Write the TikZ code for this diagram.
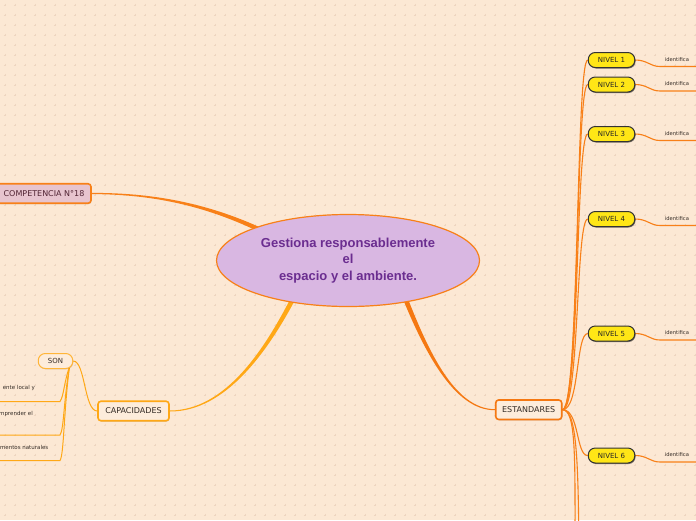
\documentclass[tikz,border=0pt]{standalone}
\usepackage{fontspec}
\setmainfont{DejaVu Sans}
\newfontfamily\centerfont{Liberation Sans}
\usetikzlibrary{shapes.geometric,shadows,calc}
\definecolor{bgc}{RGB}{252,232,212}
\definecolor{plusc}{RGB}{238,213,192}
\definecolor{ctrfill}{RGB}{217,183,226}
\definecolor{ctrtext}{RGB}{107,45,144}
\definecolor{orA}{RGB}{248,128,24}
\definecolor{orB}{RGB}{255,168,22}
\definecolor{orC}{RGB}{245,120,18}
\definecolor{compfill}{RGB}{231,196,206}
\definecolor{comptext}{RGB}{80,35,50}
\definecolor{boxfill}{RGB}{253,236,219}
\definecolor{nivfill}{RGB}{255,230,22}
\definecolor{textdk}{RGB}{51,42,36}
\pgfdeclarelayer{back}
\pgfdeclarelayer{lines}
\pgfsetlayers{back,lines,main}
\begin{document}
\begin{tikzpicture}[x=1pt,y=-1pt,
  lbl/.style={font=\fontsize{8}{9.6}\selectfont, text=textdk, rounded corners=3pt,
    line width=1.6pt, inner sep=0pt, minimum height=19.5pt,
    drop shadow={shadow xshift=0.6pt, shadow yshift=-0.8pt, fill=black, opacity=0.18}},
  compbox/.style={lbl, draw=orA, fill=compfill, text=comptext, minimum width=94pt},
  capbox/.style={lbl, draw=orB, fill=boxfill, minimum width=71pt},
  estbox/.style={lbl, draw=orC, fill=boxfill, minimum width=66pt},
  sonbox/.style={draw=orB!85, fill=boxfill, line width=1pt, rounded corners=7pt,
    minimum width=34.5pt, minimum height=15pt, inner sep=0pt,
    font=\fontsize{7}{8}\selectfont, text=textdk,
    drop shadow={shadow xshift=0.6pt, shadow yshift=-0.8pt, fill=black, opacity=0.15}},
  nivbox/.style={draw=black!80, fill=nivfill, line width=1pt, rounded corners=7pt,
    minimum width=46.5pt, minimum height=15pt, inner sep=0pt,
    font=\fontsize{7}{8}\selectfont, text=black!85,
    drop shadow={shadow xshift=0.8pt, shadow yshift=-1pt, fill=black, opacity=0.5}},
  idtxt/.style={font=\fontsize{5.2}{6}\selectfont, text=textdk, inner sep=0pt},
  leaftxt/.style={font=\fontsize{5.5}{6.5}\selectfont, text=textdk, inner sep=0pt, anchor=east},
  niv/.style={draw=orA, line width=1.1pt},
  sonln/.style={draw=orB, line width=1pt},
]
\useasboundingbox (0,0) rectangle (696,520);

% ---------- nodes ----------
\node[ellipse, draw=orA, line width=1.2pt, fill=ctrfill, minimum width=263pt,
  minimum height=92pt, inner sep=0pt, align=center,
  font=\centerfont\bfseries\fontsize{13}{16.5}\selectfont, text=ctrtext]
  (ctr) at (348,260.5) {Gestiona responsablemente\\el\\espacio y el ambiente.};

\node[compbox] (comp) at (44,193.5) {COMPETENCIA N°18};
\node[capbox] (cap) at (133.5,411) {CAPACIDADES};
\node[estbox] (est) at (528.7,409.7) {ESTANDARES};
\node[sonbox] (son) at (55.5,361) {SON};

\node[leaftxt] (lf1) at (35,388) {ente local y};
\node[leaftxt] (lf2) at (33,413.5) {mprender el};
\node[leaftxt] (lf3) at (48.5,447.5) {mentos naturales};

\foreach \i/\y in {1/60,2/84.5,3/134,4/219,5/333.5,6/455.5} {
  \node[nivbox] (n\i) at (611.5,\y) {NIVEL \i};
  \node[idtxt] (id\i) at (677,\y-0.5) {identifica};
  \coordinate (ua\i) at (660,\y+6.5);
  \coordinate (ue\i) at (700,\y+6.5);
}

\coordinate (inA) at (290,245);
\coordinate (inB) at (300,285);
\coordinate (inC) at (400,285);
\coordinate (sonO) at ([shift={(-3.75,-2.5)}]son.south east);
\coordinate (u1) at (60,401.5);
\coordinate (u1w) at (-3,401.5);
\coordinate (u2) at (60,435);
\coordinate (u2w) at (-3,435);
\coordinate (u3) at (60,460.5);
\coordinate (u3w) at (-3,460.5);
\coordinate (off1) at (575,560);
\coordinate (off2) at (579,620);

% ---------- background ----------
\begin{pgfonlayer}{back}
  \fill[bgc] (0,0) rectangle (696,520);
  \draw[plusc, line width=0.5pt]
    \foreach \x in {5,15,...,695} {
      \foreach \y in {5,15,...,515} {
        (\x-1.2,\y) -- (\x+1.2,\y) (\x,\y-1.2) -- (\x,\y+1.2)
      }
    };
\end{pgfonlayer}

% ---------- connectors ----------
\begin{pgfonlayer}{lines}
  % tapered main branches
  \fill[orA] ([shift={(0,-0.6)}]comp.east) .. controls +(79,-0.2) and +(-60.2,-32.6) ..
    ([shift={(1.2,-2.2)}]inA) -- ([shift={(-1.2,2.2)}]inA)
    .. controls +(-59.8,-33.4) and +(79,0.2) .. ([shift={(0,0.6)}]comp.east) -- cycle;
  \fill[orB] ([shift={(0,-0.5)}]cap.east) .. controls +(56,-0.3) and +(-31.6,65.2) ..
    ([shift={(-2.2,-1.1)}]inB) -- ([shift={(2.2,1.1)}]inB)
    .. controls +(-32.4,64.8) and +(56,0.3) .. ([shift={(0,0.5)}]cap.east) -- cycle;
  \fill[orC] ([shift={(0,-0.5)}]est.west) .. controls +(-41,-0.3) and +(24.6,65.2) ..
    ([shift={(2.3,-0.9)}]inC) -- ([shift={(-2.3,0.9)}]inC)
    .. controls +(25.4,64.8) and +(-41,0.3) .. ([shift={(0,0.5)}]est.west) -- cycle;

  % capacidades -> son -> leaves
  \draw[sonln] (cap.west) .. controls +(-13,0) and +(12,0) .. (son.east);
  \draw[sonln] (sonO) .. controls +(-6,18) and +(4,-6) .. (u1) -- (u1w);
  \draw[sonln] (sonO) .. controls +(-6,35) and +(4,-6) .. (u2) -- (u2w);
  \draw[sonln] (sonO) .. controls +(-6,47) and +(4,-6) .. (u3) -- (u3w);

  % estandares -> niveles
  \foreach \i in {1,...,6} {
    \draw[niv] (est.east) .. controls +(17,0) and +(-12,0) .. (n\i.west);
    \draw[niv] (n\i.east) .. controls +(12,0) and +(-10,0) .. (ua\i) -- (ue\i);
  }
  \draw[niv] (est.east) .. controls +(14,0) and +(0,-100) .. (off1);
  \draw[niv] (est.east) .. controls +(16,0) and +(0,-150) .. (off2);
\end{pgfonlayer}
\end{tikzpicture}
\end{document}
